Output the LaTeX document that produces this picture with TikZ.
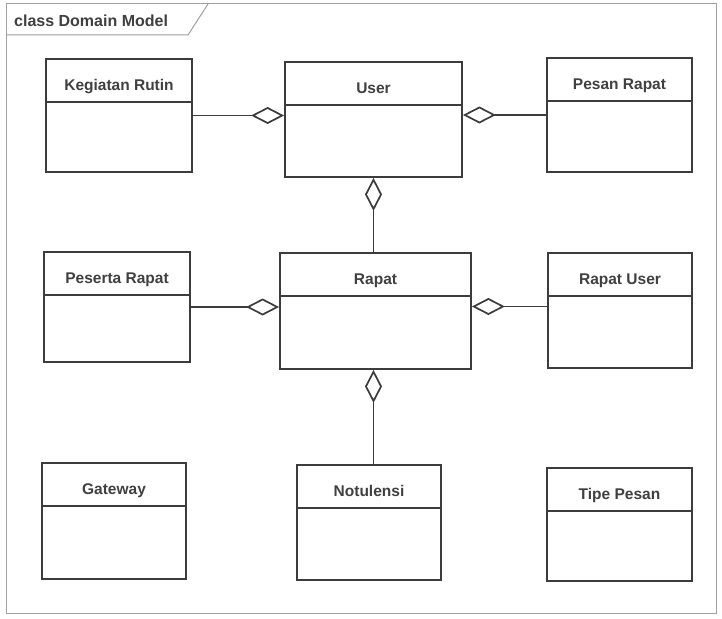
\documentclass[tikz,border=0pt]{standalone}
\usepackage{fontspec}
\setmainfont{Liberation Sans}
\usetikzlibrary{arrows.meta}
\definecolor{umlline}{HTML}{3C3C3C}
\definecolor{umltext}{HTML}{404040}
\definecolor{framecol}{HTML}{A0A0A0}
\tikzset{
  classbox/.style={draw=umlline, line width=1.8pt, fill=white, inner sep=0pt},
  classname/.style={text=umltext, font=\fontsize{15.5}{18}\selectfont\bfseries, inner sep=0pt, anchor=base},
  agg/.style={draw=umlline, line width=1.7pt,
    -{Diamond[open, length=33pt, width=17pt, fill=white]}},
}
% one class: #1 name, #2 centre x, #3 centre y, #4 width, #5 height, #6 label
\newcommand{\umlclass}[6]{%
  \node[classbox, minimum width=#4pt, minimum height=#5pt] (#1) at (#2,#3) {};
  \draw[umlline, line width=1.8pt] ([yshift=-44pt]#1.north west) -- ([yshift=-44pt]#1.north east);
  \node[classname] (#1-label) at ([yshift=-32pt]#1.north) {#6};
}
\begin{document}
\begin{tikzpicture}[x=1pt, y=-1pt]
  \useasboundingbox[fill=white] (0,0) rectangle (722,618);
  % diagram frame with its name tab
  \draw[framecol, line width=1pt] (6,4) rectangle (716,613);
  \draw[framecol, line width=1pt] (6,35) -- (188,35) -- (208,4);
  \node[anchor=base west, text=umltext, font=\fontsize{16}{19}\selectfont\bfseries, inner sep=0pt]
    (frame-title) at (14,27) {class Domain Model};

  % classes
  \umlclass{keg}{119}{115.5}{146}{113}{Kegiatan Rutin}
  \umlclass{user}{373.5}{119.5}{177}{115}{User}
  \umlclass{pesan}{619.5}{115}{145}{114}{Pesan Rapat}
  \umlclass{peserta}{117}{307}{146}{110}{Peserta Rapat}
  \umlclass{rapat}{375.5}{311}{191}{116}{Rapat}
  \umlclass{rapatuser}{620}{310.5}{144}{115}{Rapat User}
  \umlclass{gateway}{114}{521}{144}{116}{Gateway}
  \umlclass{notulensi}{369}{522.5}{144}{115}{Notulensi}
  \umlclass{tipe}{619.5}{524.5}{145}{113}{Tipe Pesan}

  % aggregations
  \draw[agg] (keg.east) -- (keg.east -| user.west);
  \draw[agg] (pesan.west) -- (pesan.west -| user.east);
  \draw[agg] (rapat.north -| user.south) -- (user.south);
  \draw[agg] (peserta.east) -- (peserta.east -| rapat.west);
  \draw[agg] ([yshift=4pt]rapatuser.west) -- ([yshift=4pt]rapatuser.west -| rapat.east);
  \draw[agg] (notulensi.north -| user.south) -- (rapat.south -| user.south);
\end{tikzpicture}
\end{document}
